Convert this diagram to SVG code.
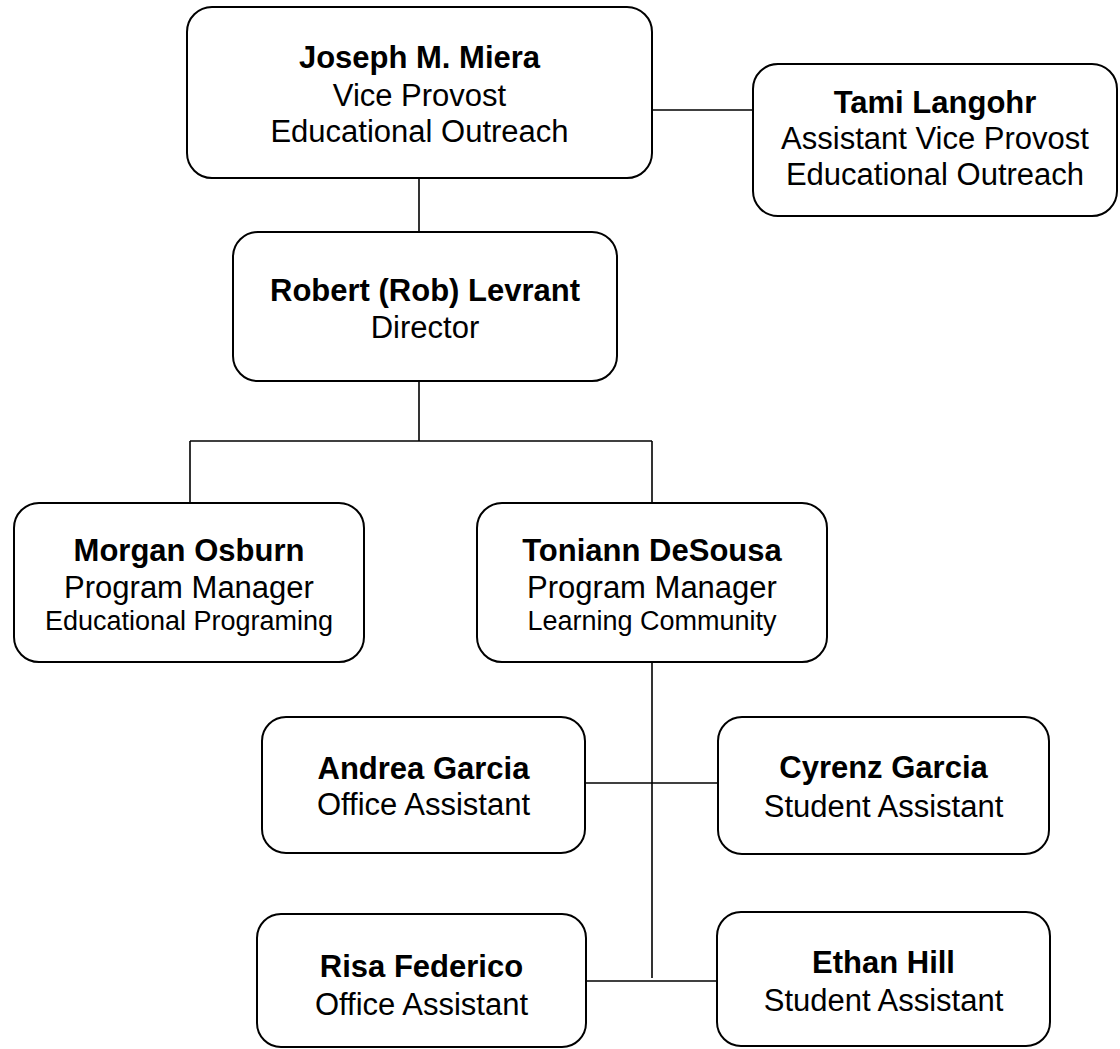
<svg xmlns="http://www.w3.org/2000/svg" width="1120" height="1049" viewBox="0 0 1120 1049">
<style>
.box{fill:#fff;stroke:#000;stroke-width:2}
.ln{fill:none;stroke:#000;stroke-width:1.6}
text{font-family:"Liberation Sans",Arial,sans-serif;text-anchor:middle;fill:#000}
.n{font-weight:bold;font-size:31px}
.t{font-size:31px}
.s{font-size:27px}
</style>
<rect width="1120" height="1049" fill="#fff"/>
<g id="connectors">
<line class="ln" x1="652" y1="110" x2="753" y2="110"/>
<line class="ln" x1="419" y1="178" x2="419" y2="232"/>
<line class="ln" x1="419" y1="381" x2="419" y2="441"/>
<line class="ln" x1="190" y1="441" x2="652" y2="441"/>
<line class="ln" x1="190" y1="441" x2="190" y2="503"/>
<line class="ln" x1="652" y1="441" x2="652" y2="503"/>
<line class="ln" x1="652" y1="662" x2="652" y2="978"/>
<line class="ln" x1="585" y1="783" x2="718" y2="783"/>
<line class="ln" x1="586" y1="981" x2="717" y2="981"/>
</g>
<g id="joseph">
<rect class="box" x="187" y="7" width="465" height="171" rx="25"/>
<text class="n" x="419.5" y="68">Joseph M. Miera</text>
<text class="t" x="419.5" y="106">Vice Provost</text>
<text class="t" x="419.5" y="142">Educational Outreach</text>
</g>
<g id="tami">
<rect class="box" x="753" y="64" width="364" height="152" rx="25"/>
<text class="n" x="935" y="113">Tami Langohr</text>
<text class="t" x="935" y="149">Assistant Vice Provost</text>
<text class="t" x="935" y="185">Educational Outreach</text>
</g>
<g id="robert">
<rect class="box" x="233" y="232" width="384" height="149" rx="25"/>
<text class="n" x="425" y="301">Robert (Rob) Levrant</text>
<text class="t" x="425" y="338">Director</text>
</g>
<g id="morgan">
<rect class="box" x="14" y="503" width="350" height="159" rx="25"/>
<text class="n" x="189" y="561">Morgan Osburn</text>
<text class="t" x="189" y="598">Program Manager</text>
<text class="s" x="189" y="630">Educational Programing</text>
</g>
<g id="toniann">
<rect class="box" x="477" y="503" width="350" height="159" rx="25"/>
<text class="n" x="652" y="561">Toniann DeSousa</text>
<text class="t" x="652" y="598">Program Manager</text>
<text class="s" x="652" y="630">Learning Community</text>
</g>
<g id="andrea">
<rect class="box" x="262" y="717" width="323" height="136" rx="24"/>
<text class="n" x="423.5" y="779">Andrea Garcia</text>
<text class="t" x="423.5" y="815">Office Assistant</text>
</g>
<g id="cyrenz">
<rect class="box" x="718" y="717" width="331" height="137" rx="24"/>
<text class="n" x="883.5" y="778">Cyrenz Garcia</text>
<text class="t" x="883.5" y="817">Student Assistant</text>
</g>
<g id="risa">
<rect class="box" x="257" y="914" width="329" height="133" rx="24"/>
<text class="n" x="421.5" y="977">Risa Federico</text>
<text class="t" x="421.5" y="1015">Office Assistant</text>
</g>
<g id="ethan">
<rect class="box" x="717" y="912" width="333" height="134" rx="24"/>
<text class="n" x="883.5" y="973">Ethan Hill</text>
<text class="t" x="883.5" y="1011">Student Assistant</text>
</g>
</svg>
